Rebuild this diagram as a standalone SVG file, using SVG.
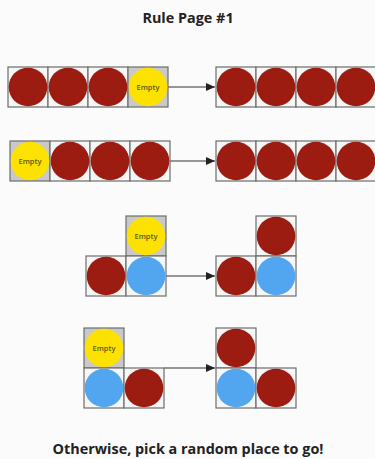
<svg xmlns="http://www.w3.org/2000/svg" width="375" height="459" viewBox="0 0 375 459">
<defs>
<style>
.cell{fill:#f6f6f6;stroke:#6b6e6b;stroke-width:1.2}
.emptycell{fill:#c9c9c9;stroke:#6b6e6b;stroke-width:1.2}
.r{fill:#9c1c12}
.y{fill:#fde100}
.b{fill:#52a6f0}
.et{font-family:"Open Sans","Liberation Sans",sans-serif;font-size:7.5px;font-weight:600;fill:#5a5a10;text-anchor:middle}
.title{font-family:"Open Sans","Liberation Sans",sans-serif;font-weight:bold;font-size:14.4px;fill:#222;text-anchor:middle}
.conn{stroke:#333;stroke-width:1.2;fill:none}
</style>
<marker id="ah" markerWidth="10" markerHeight="8" refX="9" refY="4" orient="auto" markerUnits="userSpaceOnUse">
<path d="M0,0 L9,4 L0,8 Z" fill="#222"/>
</marker>
</defs>
<rect width="375" height="459" fill="#fbfbfb"/>
<text class="title" x="188" y="23">Rule Page #1</text>
<text class="title" x="188" y="454">Otherwise, pick a random place to go!</text>

<g id="connectors">
<line class="conn" x1="168" y1="87" x2="215" y2="87" marker-end="url(#ah)"/>
<line class="conn" x1="170" y1="161" x2="215" y2="161" marker-end="url(#ah)"/>
<line class="conn" x1="166" y1="276" x2="215" y2="276" marker-end="url(#ah)"/>
<line class="conn" x1="164" y1="368" x2="215" y2="368" marker-end="url(#ah)"/>
</g>

<g id="row1-before">
<rect class="cell" x="8" y="67" width="40" height="40"/>
<rect class="cell" x="48" y="67" width="40" height="40"/>
<rect class="cell" x="88" y="67" width="40" height="40"/>
<rect class="emptycell" x="128" y="67" width="40" height="40"/>
<circle class="r" cx="28" cy="87" r="19.3"/>
<circle class="r" cx="68" cy="87" r="19.3"/>
<circle class="r" cx="108" cy="87" r="19.3"/>
<circle class="y" cx="148" cy="87" r="19.3"/>
<text class="et" x="148" y="89.7">Empty</text>
</g>
<g id="row1-after">
<rect class="cell" x="216" y="67" width="40" height="40"/>
<rect class="cell" x="256" y="67" width="40" height="40"/>
<rect class="cell" x="296" y="67" width="40" height="40"/>
<rect class="cell" x="336" y="67" width="40" height="40"/>
<circle class="r" cx="236" cy="87" r="19.3"/>
<circle class="r" cx="276" cy="87" r="19.3"/>
<circle class="r" cx="316" cy="87" r="19.3"/>
<circle class="r" cx="356" cy="87" r="19.3"/>
</g>

<g id="row2-before">
<rect class="emptycell" x="10" y="141" width="40" height="40"/>
<rect class="cell" x="50" y="141" width="40" height="40"/>
<rect class="cell" x="90" y="141" width="40" height="40"/>
<rect class="cell" x="130" y="141" width="40" height="40"/>
<circle class="y" cx="30" cy="161" r="19.3"/>
<circle class="r" cx="70" cy="161" r="19.3"/>
<circle class="r" cx="110" cy="161" r="19.3"/>
<circle class="r" cx="150" cy="161" r="19.3"/>
<text class="et" x="30" y="163.7">Empty</text>
</g>
<g id="row2-after">
<rect class="cell" x="216" y="141" width="40" height="40"/>
<rect class="cell" x="256" y="141" width="40" height="40"/>
<rect class="cell" x="296" y="141" width="40" height="40"/>
<rect class="cell" x="336" y="141" width="40" height="40"/>
<circle class="r" cx="236" cy="161" r="19.3"/>
<circle class="r" cx="276" cy="161" r="19.3"/>
<circle class="r" cx="316" cy="161" r="19.3"/>
<circle class="r" cx="356" cy="161" r="19.3"/>
</g>

<g id="row3-before">
<rect class="emptycell" x="126" y="216" width="40" height="40"/>
<rect class="cell" x="86" y="256" width="40" height="40"/>
<rect class="cell" x="126" y="256" width="40" height="40"/>
<circle class="y" cx="146" cy="236" r="19.3"/>
<circle class="r" cx="106" cy="276" r="19.3"/>
<circle class="b" cx="146" cy="276" r="19.3"/>
<text class="et" x="146" y="238.7">Empty</text>
</g>
<g id="row3-after">
<rect class="cell" x="256" y="216" width="40" height="40"/>
<rect class="cell" x="216" y="256" width="40" height="40"/>
<rect class="cell" x="256" y="256" width="40" height="40"/>
<circle class="r" cx="276" cy="236" r="19.3"/>
<circle class="r" cx="236" cy="276" r="19.3"/>
<circle class="b" cx="276" cy="276" r="19.3"/>
</g>

<g id="row4-before">
<rect class="emptycell" x="84" y="328" width="40" height="40"/>
<rect class="cell" x="84" y="368" width="40" height="40"/>
<rect class="cell" x="124" y="368" width="40" height="40"/>
<circle class="y" cx="104" cy="348" r="19.3"/>
<circle class="b" cx="104" cy="388" r="19.3"/>
<circle class="r" cx="144" cy="388" r="19.3"/>
<text class="et" x="104" y="350.7">Empty</text>
</g>
<g id="row4-after">
<rect class="cell" x="216" y="328" width="40" height="40"/>
<rect class="cell" x="216" y="368" width="40" height="40"/>
<rect class="cell" x="256" y="368" width="40" height="40"/>
<circle class="r" cx="236" cy="348" r="19.3"/>
<circle class="b" cx="236" cy="388" r="19.3"/>
<circle class="r" cx="276" cy="388" r="19.3"/>
</g>
</svg>
